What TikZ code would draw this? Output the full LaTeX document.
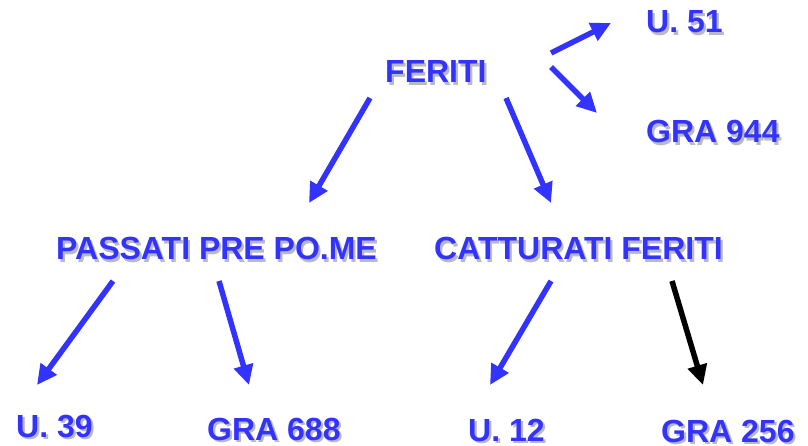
\documentclass[tikz,border=0pt]{standalone}
\usepackage{fontspec}
\setmainfont{Liberation Sans}
\usetikzlibrary{arrows.meta}
\definecolor{labelblue}{RGB}{51,51,255}
\definecolor{shadowgray}{RGB}{185,185,190}
\tikzset{
  lbl/.style={anchor=base west, inner sep=0pt, text=labelblue,
    font=\fontsize{32}{38}\bfseries\selectfont},
  link/.style={draw=labelblue, line width=5.5pt,
    -{Triangle[length=20pt,width=19pt]}},
  blacklink/.style={link, draw=black, fill=black},
}
% text with a soft grey drop shadow behind it
\newcommand{\shtext}[1]{%
  \makebox[0pt][l]{\kern2.2pt\raisebox{-2.2pt}{\color{shadowgray}#1}}#1}
\begin{document}
\begin{tikzpicture}[x=1pt,y=-1pt]
\useasboundingbox (0,0) rectangle (808,446);

\node[lbl] (feriti)    at (385,83)  {\shtext{FERITI}};
\node[lbl] (passati)   at (56,260)  {\shtext{PASSATI PRE PO.ME}};
\node[lbl] (catturati) at (434,260) {\shtext{CATTURATI FERITI}};
\node[lbl] (u51)       at (646,33)  {\shtext{U. 51}};
\node[lbl] (gra944)    at (646,143) {\shtext{GRA 944}};
\node[lbl] (u39)       at (16,437)  {\shtext{U. 39}};
\node[lbl] (gra688)    at (207,440) {\shtext{GRA 688}};
\node[lbl] (u12)       at (468,441) {\shtext{U. 12}};
\node[lbl] (gra256)    at (661,442) {\shtext{GRA 256}};

% arrow end points
\coordinate (fL) at (370,98);   \coordinate (fLe) at (309,203);
\coordinate (fR) at (506,98);   \coordinate (fRe) at (551,203);
\coordinate (fU) at (551,53);   \coordinate (fUe) at (611,23);
\coordinate (fG) at (551,67);   \coordinate (fGe) at (597,113);
\coordinate (pL) at (113,281);  \coordinate (pLe) at (37,385);
\coordinate (pR) at (219,281);  \coordinate (pRe) at (249,385);
\coordinate (cL) at (551,281);  \coordinate (cLe) at (490,385);
\coordinate (cR) at (672,281);  \coordinate (cRe) at (703,385);

\draw[link] (fL) -- (fLe);
\draw[link] (fR) -- (fRe);
\draw[link] (fU) -- (fUe);
\draw[link] (fG) -- (fGe);
\draw[link] (pL) -- (pLe);
\draw[link] (pR) -- (pRe);
\draw[link] (cL) -- (cLe);
\draw[blacklink] (cR) -- (cRe);
\end{tikzpicture}
\end{document}
